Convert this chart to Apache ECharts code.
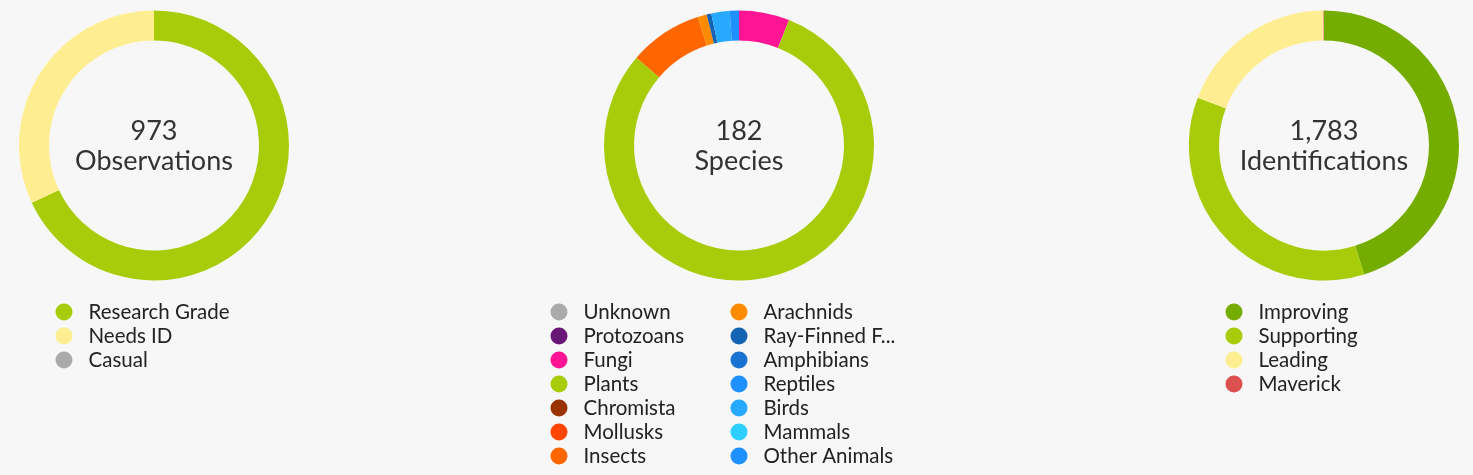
<!DOCTYPE html>
<html>
<head>
<meta charset="utf-8">
<script src="https://cdn.jsdelivr.net/npm/echarts@6/dist/echarts.min.js"></script>
<style>
  html, body { margin: 0; padding: 0; background: #f7f7f7; }
  #stats { width: 1473px; height: 475px; }
</style>
</head>
<body>
<div id="stats"></div>
<script>
// quality grade of observations
var obsNames = ['Research Grade', 'Needs ID', 'Casual'];
var obsValues = [662, 311, 0];
var obsColors = ['#a8cc09', '#ffee91', '#aaaaaa'];

// species by iconic taxon
var taxaNames = ['Unknown', 'Protozoans', 'Fungi', 'Plants', 'Chromista', 'Mollusks', 'Insects',
                 'Arachnids', 'Ray-Finned Fishes', 'Amphibians', 'Reptiles', 'Birds', 'Mammals', 'Other Animals'];
var taxaValues = [0, 0, 11, 146, 0, 0, 16, 2, 1, 0, 0, 4, 0, 2];
var taxaColors = ['#aaaaaa', '#691776', '#ff1493', '#a8cc09', '#993300', '#ff4500', '#ff6600',
                  '#ff8c00', '#1563b3', '#1772d1', '#1e90ff', '#26a9ff', '#2ccfff', '#1e90ff'];

// identification categories
var idNames = ['Improving', 'Supporting', 'Leading', 'Maverick'];
var idValues = [806, 634, 342, 1];
var idColors = ['#74ac00', '#a8cc09', '#ffee91', '#dc5050'];

var FONT = 'Lato, "Noto Sans", sans-serif';

function sum(a) { return a.reduce(function (s, v) { return s + v; }, 0); }
function fmt(n) { return n.toLocaleString('en-US'); }

function pieData(names, values, colors) {
    return names.map(function (n, i) {
        return { name: n, value: values[i], itemStyle: { color: colors[i] } };
    });
}

function donut(cx, names, values, colors) {
    return {
        type: 'pie',
        center: [cx, 145.5],
        radius: [105, 135],
        startAngle: 90,
        clockwise: true,
        silent: true,
        label: { show: false },
        labelLine: { show: false },
        emphasis: { disabled: true },
        data: pieData(names, values, colors)
    };
}

function centerTitle(cx, num, word) {
    return {
        text: fmt(num) + '\n' + word,
        left: cx,
        top: 116,
        padding: 0,
        textAlign: 'center',
        textStyle: { fontFamily: FONT, fontSize: 27, fontWeight: 'normal', color: '#333', lineHeight: 30 }
    };
}

function legendBox(left, names, width) {
    var ts = { fontFamily: FONT, fontSize: 20.5, color: '#222', lineHeight: 24, padding: [0, 0, 0, 11] };
    if (width) { ts.width = width; ts.overflow = 'truncate'; ts.ellipsis = '...'; }
    return {
        orient: 'vertical',
        left: left,
        top: 300,
        height: 175,
        padding: 0,
        itemWidth: 17,
        itemHeight: 17,
        itemGap: 0,
        icon: 'circle',
        selectedMode: false,
        textStyle: ts,
        data: names
    };
}

var chart = echarts.init(document.getElementById('stats'));
chart.setOption({
    backgroundColor: '#f7f7f7',
    animation: false,
    title: [
        centerTitle(154, sum(obsValues), 'Observations'),
        centerTitle(739, sum(taxaValues), 'Species'),
        centerTitle(1324, sum(idValues), 'Identifications')
    ],
    legend: [
        legendBox(55.5, obsNames),
        legendBox(550.5, taxaNames.slice(0, 7)),
        legendBox(730.5, taxaNames.slice(7), 139),
        legendBox(1225.5, idNames)
    ],
    series: [
        donut(154, obsNames, obsValues, obsColors),
        donut(739, taxaNames, taxaValues, taxaColors),
        donut(1324, idNames, idValues, idColors)
    ]
});
</script>
</body>
</html>
